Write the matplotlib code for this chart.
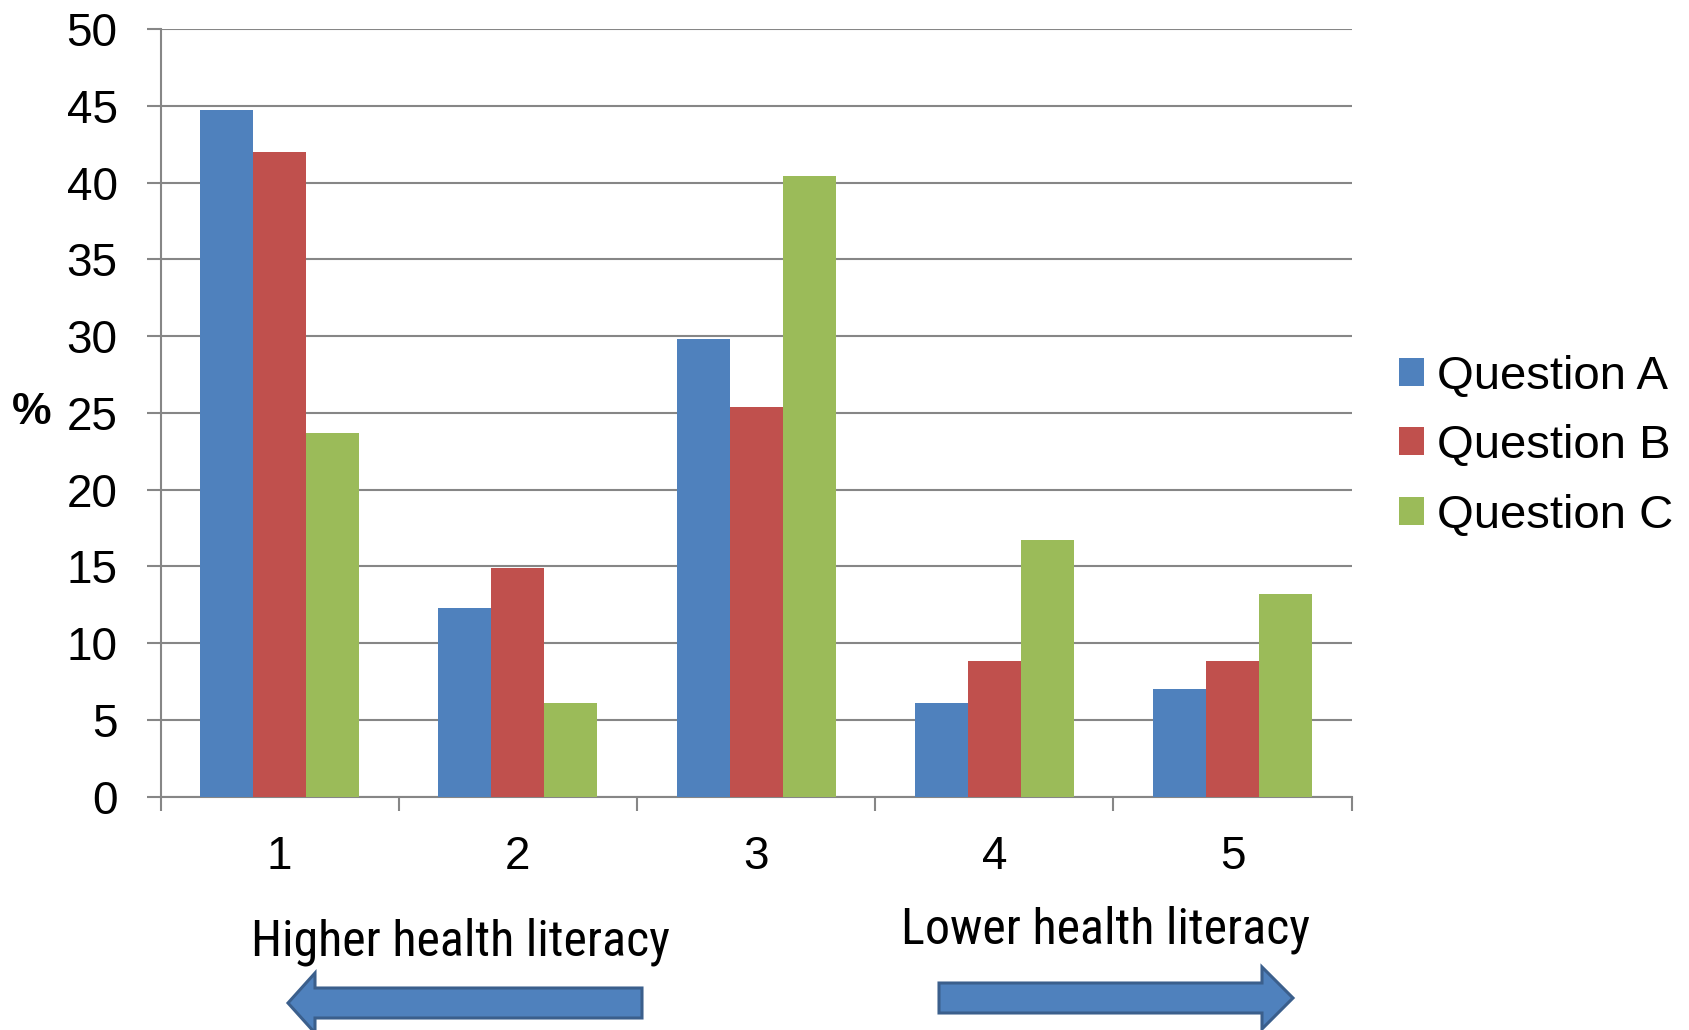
import matplotlib
matplotlib.use("Agg")
import matplotlib.pyplot as plt
from matplotlib.patches import Polygon, Patch
from matplotlib import font_manager

plt.rcParams['font.family'] = ['Liberation Sans', 'DejaVu Sans']

# literacy levels and answers per question (%)
levels = ["1", "2", "3", "4", "5"]
question_a = [44.7, 12.3, 29.8, 6.1, 7.0]
question_b = [42.0, 14.9, 25.4, 8.8, 8.8]
question_c = [23.7, 6.1, 40.4, 16.7, 13.2]
series_names = ["Question A", "Question B", "Question C"]
series_colors = ["#4F81BD", "#C0504D", "#9BBB59"]
y_ticks = [0, 5, 10, 15, 20, 25, 30, 35, 40, 45, 50]

grey = "#868686"
W, H = 1690, 1030

fig = plt.figure(figsize=(W / 100, H / 100), dpi=100)
ax = fig.add_axes([160.6 / W, 1 - 796.5 / H, (1351.6 - 160.6) / W, (796.5 - 29.1) / H])

positions = list(range(1, len(levels) + 1))
bar_w = 1 / 4.5
for i, (vals, name, col) in enumerate(zip([question_a, question_b, question_c], series_names, series_colors)):
    xs = [p + (i - 1) * bar_w for p in positions]
    ax.bar(xs, vals, width=bar_w, color=col, linewidth=0, label=name, zorder=3)

ax.set_xlim(0.5, len(levels) + 0.5)
ax.set_ylim(0, 50)
ax.set_yticks(y_ticks)
ax.yaxis.grid(True, color=grey, linewidth=1.5, zorder=0)
ax.set_axisbelow(True)

# category boundaries carry the tick marks, labels sit at the centres
ax.set_xticks([p - 0.5 for p in positions] + [len(levels) + 0.5])
ax.set_xticklabels([])
ax.set_xticks(positions, minor=True)
ax.set_xticklabels(levels, minor=True)
ax.tick_params(axis='x', which='major', direction='out', length=10, width=1.5, color=grey)
ax.tick_params(axis='x', which='minor', length=0, pad=28, labelsize=33)
ax.tick_params(axis='y', direction='out', length=10, width=1.5, color=grey, pad=21, labelsize=33)

for side in ["top", "right"]:
    ax.spines[side].set_visible(False)
for side in ["left", "bottom"]:
    ax.spines[side].set_color(grey)
    ax.spines[side].set_linewidth(1.5)

fig.text(32 / W, 1 - 413 / H, "%", fontsize=32, fontweight='bold', ha='center', va='center')

handles = [Patch(facecolor=c, linewidth=0) for c in series_colors]
fig.legend(handles, series_names, loc='center left', bbox_to_anchor=(1399 / W, 1 - 446 / H),
           frameon=False, fontsize=34, handlelength=0.53, handleheight=0.53,
           handletextpad=0.28, labelspacing=0.54, borderpad=0, borderaxespad=0)

# direction arrows under the axis
over = fig.add_axes([0, 0, 1, 1], zorder=-1)
over.set_xlim(0, W)
over.set_ylim(H, 0)
over.axis('off')

arrow_fill = "#4F81BD"
arrow_edge = "#3B5F8C"
left_arrow = [(288, 1003), (315, 973), (315, 988), (642, 988), (642, 1018), (315, 1018), (315, 1033)]
right_arrow = [(1293, 998), (1262, 967), (1262, 983), (939, 983), (939, 1013), (1262, 1013), (1262, 1029)]
for pts in (left_arrow, right_arrow):
    over.add_patch(Polygon(pts, closed=True, facecolor=arrow_fill, edgecolor=arrow_edge,
                           linewidth=2.2, joinstyle='miter'))

installed = {f.name for f in font_manager.fontManager.ttflist}
label_font = [f for f in ['Roboto Condensed', 'Liberation Sans Narrow', 'Roboto'] if f in installed]
over.text(461, 955, "Higher health literacy", fontsize=36, family=label_font, weight='normal',
          ha='center', va='baseline')
over.text(1106, 944, "Lower health literacy", fontsize=36, family=label_font, weight='normal',
          ha='center', va='baseline')

fig.savefig("out.png", dpi=100)
